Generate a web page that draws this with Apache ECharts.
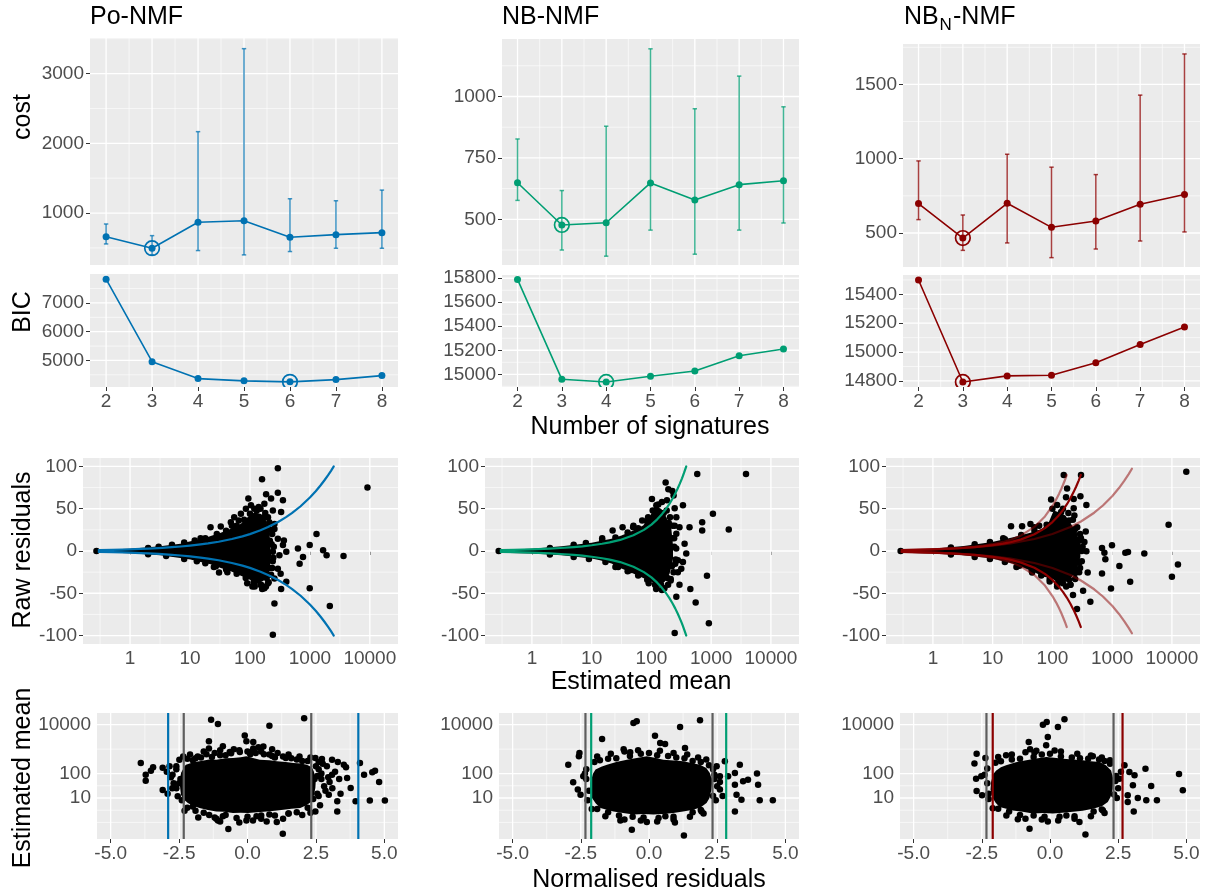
<!DOCTYPE html>
<html><head><meta charset="utf-8">
<script src="https://cdn.jsdelivr.net/npm/echarts@6/dist/echarts.min.js"></script>
<style>html,body{margin:0;padding:0;background:#fff}#c{width:1207px;height:895px}</style>
</head><body><div id="c"></div>
<script>
// ---------------- DATA ----------------
const sigK = [2, 3, 4, 5, 6, 7, 8];
const costPo = [661, 496, 867, 890, 652, 690, 719];
const costPoLo = [557, 400, 462, 400, 448, 495, 495];
const costPoHi = [843, 676, 2167, 3357, 1205, 1176, 1329];
const costNB = [649, 477, 486, 648, 579, 641, 657];
const costNBLo = [577, 375, 350, 456, 358, 456, 485];
const costNBHi = [827, 617, 879, 1194, 950, 1083, 958];
const costNBN = [698, 466, 700, 538, 581, 693, 759];
const costNBNLo = [590, 383, 433, 334, 392, 446, 507];
const costNBNHi = [985, 621, 1030, 943, 893, 1428, 1705];
const bicPo = [7828, 4955, 4369, 4290, 4255, 4334, 4472];
const bicNB = [15790, 14958, 14936, 14983, 15027, 15155, 15211];
const bicNBN = [15499, 14793, 14835, 14839, 14926, 15053, 15174];
const bestCostK = [3, 3, 3];
const bestBicK = [6, 4, 3];

// tick values
const kTicks = [2, 3, 4, 5, 6, 7, 8];
const kMinor = [2.5, 3.5, 4.5, 5.5, 6.5, 7.5];
const costPoTicks = [1000, 2000, 3000], costPoMinor = [500, 1500, 2500, 3500];
const costNBTicks = [500, 750, 1000], costNBMinor = [375, 625, 875, 1125];
const costNBNTicks = [500, 1000, 1500], costNBNMinor = [750, 1250, 1750];
const bicPoTicks = [5000, 6000, 7000], bicPoMinor = [4500, 5500, 6500, 7500];
const bicNBTicks = [15000, 15200, 15400, 15600, 15800], bicNBMinor = [14900, 15100, 15300, 15500, 15700];
const bicNBNTicks = [14800, 15000, 15200, 15400], bicNBNMinor = [14900, 15100, 15300, 15500];
const meanTicks = [1, 10, 100, 1000, 10000], meanMinor = [0.316, 3.16, 31.6, 316, 3162];
const residTicks = [-100, -50, 0, 50, 100], residMinor = [-75, -25, 25, 75];
const normTicks = [-5, -2.5, 0, 2.5, 5], normMinor = [-3.75, -1.25, 1.25, 3.75];
const estTicks = [10, 100, 10000], estMinor = [1, 3.16, 31.6, 1000];

// raw residual bands
const muPo = [0.3, 0.5, 0.75, 1, 1.5, 2, 3, 5, 7, 10, 15, 20, 30, 50, 75, 100, 150, 200, 300, 400, 500, 700, 1000, 1250, 1500, 1750, 2000, 2250, 2500];
const bandPo = [1.1, 1.41, 1.73, 2, 2.45, 2.83, 3.46, 4.47, 5.29, 6.32, 7.75, 8.94, 10.95, 14.14, 17.32, 20, 24.49, 28.28, 34.64, 40, 44.72, 52.92, 63.25, 70.71, 77.46, 83.67, 89.44, 94.87, 100];
const muNB = [0.3, 0.5, 1, 2, 3, 5, 7, 10, 15, 20, 30, 50, 75, 100, 125, 150, 175, 200, 225, 250, 275, 300, 325, 350, 383];
const bandNB = [1.1, 1.42, 2.01, 2.87, 3.54, 4.63, 5.55, 6.77, 8.54, 10.15, 13.11, 18.56, 25.0, 31.26, 37.44, 43.58, 49.68, 55.76, 61.82, 67.88, 73.93, 79.97, 86.0, 92.03, 100];
const muNBNa = [0.3, 0.5, 1, 2, 3, 5, 7, 10, 15, 20, 30, 50, 75, 100, 115, 130, 140, 150, 162, 174];
const bandNBNa = [1.1, 1.44, 2.06, 3.0, 3.77, 5.11, 6.32, 8.03, 10.72, 13.33, 18.43, 28.45, 40.89, 53.28, 60.71, 68.13, 73.08, 78.03, 83.96, 89.9];
const muNBNb = [0.3, 0.5, 1, 2, 3, 5, 7, 10, 15, 20, 30, 50, 75, 100, 125, 150, 175, 200, 225, 250, 275, 299];
const bandNBNb = [1.1, 1.42, 2.02, 2.88, 3.56, 4.68, 5.64, 6.91, 8.8, 10.53, 13.77, 19.83, 27.1, 34.24, 41.31, 48.35, 55.36, 62.36, 69.35, 76.33, 83.3, 90.0];
const muNBNc = [0.3, 0.5, 1, 2, 3, 5, 10, 20, 50, 100, 200, 300, 500, 700, 1000, 1300, 1600, 1900, 2140];
const bandNBNc = [1.1, 1.41, 2, 2.83, 3.46, 4.47, 6.33, 8.95, 14.16, 20.05, 28.43, 34.9, 45.28, 53.83, 64.81, 74.42, 83.14, 91.23, 97.34];

// dense cores of the residual clouds (outline)
const rawPoCore = [[0.275,1.6],[1,2.7],[3.19,5.5],[6.9,8.6],[10.2,11.4],[15,13.3],[22.1,17.6],[32.6,21.6],[47.9,26.3],[70.6,32.1],[91.4,40],[118,45.9],[153,43.9],[186,36],[211,22.3],[225,-5.1],[211,-24.7],[174,-34.5],[134,-38.4],[104,-34.5],[70.6,-29.4],[47.9,-23.9],[32.6,-20],[22.1,-15.7],[15,-12.9],[10.2,-10.2],[6.9,-8.2],[3.19,-5.1],[1,-2.7],[0.275,-1.6]];
const rawNBCore = [[0.278,1.6],[1,2.7],[3.16,5.5],[10,9.8],[21.5,14.5],[31.6,18.4],[49.5,24.3],[72.6,30.2],[93.8,40],[113.6,53.7],[146.8,49.8],[177.8,40],[215.4,26.3],[229.7,6.7],[229.7,-9],[202,-26.7],[166.8,-36.5],[129,-42.3],[100,-36.5],[72.6,-31.8],[49.5,-26.7],[31.6,-20.8],[21.5,-14.9],[13.8,-11],[10,-9],[3.16,-5.1],[1,-3.1],[0.278,-2]];
const rawNBNCore = [[0.288,1.6],[1,2.7],[3.3,5.9],[9.8,10.6],[21.2,16.1],[42.9,21.6],[67.2,26.3],[86.9,34.1],[105,47.8],[127.6,45.9],[164.9,41.9],[213,30.2],[258,20.4],[294,6.7],[294,-7.1],[258,-20.8],[213,-30.6],[164.9,-36.5],[127.6,-38.4],[98.7,-32.5],[71.6,-30.6],[48.8,-24.7],[31.1,-18.8],[21.2,-14.9],[9.8,-9],[3.3,-5.1],[1,-3.1],[0.288,-2]];

const rawPoPts = [[0.275,0],[292,98],[159,85],[186,67],[292,69],[355,60],[225,62],[174,56],[241,48],[94,62],[118,50],[331,46],[256,32],[355,7],[368,12.5],[256,26],[292,14.5],[241,-1],[310,-5],[404,-1],[292,-21],[325,-27],[256,-32.5],[331,-45],[404,-36.5],[256,-62],[241,-99],[153,-40],[174,-44],[118,-38],[42,-25],[30.5,-25.5],[22,28],[32.6,29],[48,34],[70.6,44],[85.6,50],[54.6,40],[104,54],[632,3],[674,-15],[767,-7],[993,7],[1290,20],[1660,1],[1900,-5],[993,-44],[2150,-65],[3640,-6],[9130,75],
  [2,3.5],[3,5],[5,7.5],[8,10],[12,12.5],[18,15],[28,20],[40,24],[60,30],[80,37],[100,44],[130,48],[170,40],[200,28],[215,12],[2,-3.8],[4,-6],[8,-9.5],[13,-12],[18,-14.5],[27,-18],[40,-22],[60,-27],[85,-32],[115,-37],[150,-40],[190,-32],[215,-20],
  [230,8],[240,-12],[235,20],[200,-38],[140,52],[65,36],[110,-42],
  [150,50],[180,45],[200,40],[210,34],[220,25],[160,-45],[185,-42],[205,-37],[225,-28],[235,-20],[245,-8],[250,5],[120,-42],[90,-38],[50,30],[25,-19],[15,15]];
const rawNBPts = [[0.278,0],[173,81],[192,73],[224,71],[182,60],[235,65.5],[245,50.6],[337,54],[102,61.5],[121,54],[88,40],[261,40],[295,28],[434,28],[261,20.4],[359,8.6],[383,-3],[277,-11],[337,-13],[316,-21],[277,-25],[295,-40],[448,-45],[261,-54],[550,-61],[245,-97],[22.4,24.3],[32.9,28.2],[49.5,28.2],[43.5,-22.7],[27.8,-18.8],[585,91],[707,34],[707,24.3],[1070,44],[1970,25.5],[850,-29.4],[915,-85.5],[3830,91],
  [2,3.5],[5,7.5],[8,9.5],[15,12.5],[25,16],[40,22],[60,27],[85,35],[105,48],[130,55],[160,45],[195,33],[220,15],[2,-4],[5,-7],[9,-9.5],[17,-13],[26,-17],[40,-24],[60,-29],[85,-34],[115,-40],[145,-40],[185,-32],[220,-18],
  [240,5],[250,-15],[245,30],[210,-35],[150,-46],[70,36],
  [150,58],[180,48],[205,40],[225,30],[240,15],[165,-44],[190,-40],[210,-33],[235,-25],[255,-10],[260,3],[120,-45],[90,-38],[50,30],[25,-19],[15,15]];
const rawNBNPts = [[0.288,0],[154.6,90],[301,90],[176,74],[169,63.5],[227,61.5],[294,64.7],[370,54.5],[227,50.6],[95,60.8],[120,54.5],[233,42],[20.3,29.4],[31.1,29.4],[42.9,32],[227,21.6],[361,23],[343,10.6],[370,-0.4],[258,-12.2],[258,-22.7],[389,-25.5],[221,-52],[326,-47],[431,-60],[258,-68.6],[45.7,-25.5],[676,3.5],[741,-2],[769,-9.8],[676,-26.7],[993,6.7],[956,-44.3],[1320,-17.6],[1660,-2],[1840,-1.2],[2000,-36.5],[3450,-3.1],[8790,31],[10000,-30.6],[12600,-16.1],[17400,93.7],
  [2,4],[5,8],[9,10.5],[16,14],[30,19],[50,24],[80,31],[100,50],[140,46],[190,36],[240,26],[280,12],[2,-4],[5,-7],[9,-9.5],[16,-13],[28,-17.5],[45,-23],[65,-29],[90,-33],[120,-39],[150,-38],[190,-34],[240,-26],[280,-14],
  [310,0],[300,15],[290,-20],[200,-40],[60,30],
  [150,50],[185,45],[220,37],[260,28],[290,20],[320,5],[170,-42],[200,-40],[240,-33],[280,-25],[310,-12],[120,-42],[90,-36],[50,28],[25,-19],[15,15]];

// normalised residual vs estimated mean
const normPoCore = [[-2.43,105],[-2.3,200],[-2.25,231],[-1.95,300],[-1.75,316],[-1.4,380],[-1.14,371],[-0.8,420],[-0.53,436],[-0.25,470],[-0.04,510],[0.2,430],[0.45,371],[0.8,350],[1.07,316],[1.4,300],[1.68,270],[1.95,260],[2.17,231],[2.35,180],[2.42,123],[2.5,60],[2.48,25.7],[2.42,12],[2.36,7.3],[2.15,5],[1.93,3.9],[1.6,3.6],[1.31,3.3],[1.0,3.0],[0.7,2.8],[0.35,2.6],[0.02,2.4],[-0.25,2.5],[-0.53,2.4],[-0.85,2.7],[-1.14,2.8],[-1.45,3.2],[-1.75,3.9],[-2.0,4.8],[-2.18,6.2],[-2.35,9],[-2.43,13.7],[-2.48,40]];
const normNBCore = [[-2.15,41],[-2.05,100],[-1.96,145],[-1.75,190],[-1.54,230],[-1.2,300],[-0.81,370],[-0.45,430],[-0.08,510],[0.25,430],[0.53,370],[0.9,340],[1.26,316],[1.55,270],[1.87,230],[2.1,170],[2.23,105],[2.32,50],[2.29,22],[2.22,10],[2.11,6.2],[1.9,4.2],[1.62,3.3],[1.25,2.8],[0.89,2.4],[0.5,2.2],[0.16,2.1],[-0.2,2.2],[-0.57,2.1],[-0.95,2.4],[-1.3,2.8],[-1.55,3.3],[-1.78,3.9],[-1.95,6],[-2.09,10],[-2.15,20]];
const normNBNCore = [[-2.16,45],[-2.08,95],[-1.97,135],[-1.8,180],[-1.61,218],[-1.25,290],[-0.87,350],[-0.5,410],[-0.14,475],[0.15,440],[0.47,408],[0.85,380],[1.2,350],[1.5,320],[1.82,295],[2.05,220],[2.24,135],[2.32,60],[2.3,24],[2.22,11],[2.12,6.9],[1.9,4.6],[1.57,3.6],[1.2,3.0],[0.84,2.7],[0.45,2.5],[0.1,2.3],[-0.25,2.4],[-0.63,2.3],[-1.0,2.7],[-1.36,3.1],[-1.6,3.6],[-1.85,4.3],[-2.0,6.5],[-2.12,11],[-2.18,22]];
const normPoPts = [[-3.9,270],[-3.72,90],[-3.72,51],[-3.53,131],[-3.45,180],[-3.1,171],[-3.1,21.3],[-2.92,15],[-2.55,11.7],[-2.49,371],[-2.74,90],[-1.82,505],[-1.33,15800],[-1.08,10700],[-1.41,2090],[-1.41,1050],[-0.65,760],[-0.28,760],[-0.1,3630],[-0.04,2090],[0.21,1950],[0.21,1050],[0.58,1290],[0.8,9120],[2.07,18600],[-1.14,1.4],[-1.08,1.2],[-0.7,0.54],[-0.04,1.2],[0.33,1.8],[1.07,1.05],[1.29,0.34],[2.48,2.8],[2.48,436],[2.72,398],[3.09,371],[3.28,7.3],[3.28,2.8],[2.97,13.7],[3.09,90],[3.52,231],[3.64,66],[3.77,25.7],[3.95,7.3],[4.11,270],[4.26,90],[4.47,7.8],[4.56,112],[4.81,45],[5.02,7.8],[4.66,131],
  [2.6,150],[2.7,60],[2.8,30],[2.6,12],[2.9,200],[3.0,45],[3.2,120],[3.35,60],[2.65,5],[3.1,25],[3.4,15],[2.55,80],[2.75,250],[3.6,180],[3.3,300],[-2.6,150],[-2.7,40],[-2.8,70],[-2.6,25],[-2.45,60],[-2.95,120],[-1.6,2.5],[-0.9,1.8],[0.5,1.9],[1.5,2.3],[-2.0,4.5],[-1.9,420],[-1.3,480],[-0.8,560],[0.1,620],[0.9,520],[1.4,430],[2.0,330],
  [-2.2,400],[-1.7,450],[-1.5,620],[-1.0,560],[-0.6,680],[-0.3,900],[0.0,800],[0.3,700],[0.6,620],[1.0,450],[1.3,500],[1.8,380],[2.2,330],[-2.0,350],[1.6,420],[0.8,600],[-0.9,1300],[0.4,1200],
  [-2.2,4],[-1.9,3],[-1.4,2],[-1.2,1.6],[-0.4,1.5],[0.0,1.7],[0.5,1.4],[1.0,1.9],[1.5,2.3],[1.8,2.6],[2.2,4],[-0.8,2.0],[0.8,2.1],
  [2.45,60],[2.5,200],[2.55,15],[2.4,9],[2.7,100],[2.85,20],[2.6,300],[2.95,70],[-2.5,40],[-2.6,200],[-2.4,8],[-2.75,25],[-2.85,200],
  [-2.1,600],[-1.6,800],[-1.2,700],[-0.5,1000],[0.2,900],[0.5,800],[1.1,700],[1.5,600],[1.9,500],[2.3,450],[-2.35,500],[-1.0,900],[0.9,1000],[-1.8,1.6],[-1.0,1.1],[-0.3,1.0],[0.2,1.2],[0.7,1.1],[1.3,1.4],[2.0,2.0],[2.3,2.5],[-2.3,3]];
const normNBPts = [[-2.96,230],[-2.78,44],[-2.57,510],[-2.55,690],[-2.41,77],[-2.61,22],[-2.51,13.7],[-1.72,2590],[-0.57,11800],[-0.45,13800],[0.22,3550],[0.41,1780],[0.59,1620],[1.14,8100],[1.32,1120],[-0.93,1000],[-0.69,740],[1.87,15200],[-1.05,1.2],[-0.63,0.5],[-0.08,1.05],[0.35,1.5],[0.95,1.0],[1.28,0.29],[1.93,2.8],[2.48,200],[2.6,77],[2.78,316],[2.9,77],[3.15,105],[3.15,35],[3.33,230],[3.45,48],[3.15,2.8],[3.21,13.7],[3.39,8.5],[3.63,56],[3.96,100],[4.0,35],[4.06,8],[4.54,8],[2.6,22],
  [2.4,60],[2.5,30],[2.7,12],[2.45,8],[2.35,150],[-2.3,60],[-2.2,20],[-2.35,100],[2.6,45],[-1.5,2.6],[-0.6,1.7],[0.6,1.8],[1.6,2.6],[-1.5,400],[-0.7,520],[0.3,560],[1.0,450],[1.6,330],
  [-2.0,300],[-1.8,350],[-1.2,420],[-0.3,650],[0.0,700],[0.7,520],[1.3,420],[1.9,300],[2.2,220],[-1.1,1.9],[-0.2,1.6],[0.9,1.7],[1.9,3.2],[-1.9,3.5],[2.35,12],[2.4,90],[-2.25,8],[-2.3,150],
  [-1.9,500],[-1.4,650],[-0.9,800],[-0.4,900],[0.4,850],[0.9,700],[1.4,600],[1.8,450],[2.1,380],[-1.6,1.8],[-0.9,1.3],[-0.3,1.2],[0.3,1.1],[0.9,1.3],[1.5,1.7],[2.0,2.3],[-2.1,3.5]];
const normNBNPts = [[-2.77,257],[-2.69,650],[-2.37,433],[-2.71,62],[-2.69,19.3],[-2.49,12.8],[-2.52,77],[-1.61,560],[-0.78,1950],[-0.73,980],[-0.57,720],[-0.26,10000],[-0.12,12900],[-0.08,3160],[-0.14,1440],[0.17,890],[0.29,8000],[0.53,16600],[1.57,510],[-1.18,1.35],[-0.75,0.55],[-0.08,1.1],[0.35,1.7],[1.08,1.05],[1.3,0.32],[1.94,3.1],[2.73,218],[2.91,115],[3.1,85],[3.04,33],[2.85,12.8],[2.85,6.9],[3.07,2.8],[3.22,10],[3.5,158],[3.71,31],[3.53,8],[3.92,8],[4.73,96],[4.87,20.6],[2.55,62],
  [2.4,50],[2.5,25],[2.45,10],[2.6,120],[-2.3,40],[-2.25,15],[-2.4,90],[-1.5,2.8],[-0.6,1.9],[0.6,1.9],[1.6,2.8],[-1.4,380],[-0.6,480],[0.4,500],[1.1,420],[1.8,380],
  [-2.0,280],[-1.8,320],[-1.1,400],[-0.3,600],[0.0,640],[0.8,450],[1.4,400],[2.0,330],[2.2,250],[-1.1,2.0],[-0.2,1.7],[0.9,1.8],[1.9,3.4],[-1.9,3.6],[2.35,14],[2.42,80],[-2.25,9],[-2.3,160],
  [-1.9,480],[-1.4,600],[-0.9,750],[-0.5,850],[0.4,800],[1.0,650],[1.5,550],[1.9,450],[2.2,350],[-1.6,1.9],[-0.9,1.4],[-0.3,1.3],[0.3,1.2],[0.9,1.4],[1.5,1.8],[2.0,2.4],[-2.1,3.8]];
const normGrey = [-2.33, 2.33];
const normPoCut = [-2.9, 4.05];
const normNBCut = [-2.12, 2.83];
const normNBNCut = [-2.1, 2.66];

// ---------------- STYLE / LAYOUT ----------------
const FONT = '"Liberation Sans", Arial, Helvetica, sans-serif';
const COLS = ['#0072B2', '#009E73', '#8B0000'];
const boxes = {
  cost: [[90, 38, 308, 227], [502, 39, 297, 226], [903, 44, 297, 223]],
  bic: [[90, 274, 308, 113], [502, 275, 297, 112], [903, 275, 297, 112]],
  raw: [[83, 458, 315, 186], [485, 458, 314, 186], [886, 458, 314, 186]],
  norm: [[97, 713, 301, 126], [499, 713, 300, 126], [900, 713, 300, 126]]
};

const grids = [], xAxes = [], yAxes = [], series = [];
function mkAxis(gi, a, isX) {
  const show = !a.hideLabels;
  return {
    gridIndex: gi, type: a.type || 'value', min: a.min, max: a.max, logBase: 10,
    position: isX ? 'bottom' : 'left',
    axisLine: {show: false},
    axisTick: {show: show, customValues: a.major, length: 4, lineStyle: {color: '#333333', width: 1}},
    axisLabel: {show: show, customValues: a.major, formatter: a.fmt || (v => String(v)),
      color: '#4D4D4D', fontSize: 19, fontFamily: FONT, margin: isX ? 5 : 6},
    splitLine: {show: false}, splitArea: {show: false}, minorTick: {show: false}, minorSplitLine: {show: false}
  };
}
function gridLines(gi, xa, ya) {
  const items = [];
  xa.minor.forEach(v => items.push([v, ya.ref, 0, 0]));
  ya.minor.forEach(v => items.push([xa.ref, v, 1, 0]));
  xa.major.forEach(v => items.push([v, ya.ref, 0, 1]));
  ya.major.forEach(v => items.push([xa.ref, v, 1, 1]));
  return {type: 'custom', xAxisIndex: gi, yAxisIndex: gi, silent: true, z: 1, clip: true,
    data: items, encode: {x: 0, y: 1},
    renderItem: (params, api) => {
      const p = api.coord([api.value(0), api.value(1)]);
      const cs = params.coordSys;
      const horiz = api.value(2) === 1, major = api.value(3) === 1;
      const shape = horiz ? {x1: cs.x, y1: p[1], x2: cs.x + cs.width, y2: p[1]}
                          : {x1: p[0], y1: cs.y, x2: p[0], y2: cs.y + cs.height};
      return {type: 'line', shape, style: {stroke: '#FFFFFF', lineWidth: major ? 1.3 : 0.6}};
    }};
}
function addPanel(box, xa, ya) {
  const gi = grids.length;
  grids.push({left: box[0], top: box[1], width: box[2], height: box[3], show: true,
    backgroundColor: '#EBEBEB', borderWidth: 0, containLabel: false});
  xAxes.push(mkAxis(gi, xa, true));
  yAxes.push(mkAxis(gi, ya, false));
  series.push(gridLines(gi, xa, ya));
  return gi;
}
function ringSeries(gi, pt, col) {
  return {type: 'custom', xAxisIndex: gi, yAxisIndex: gi, silent: true, z: 5, clip: true,
    data: [pt], encode: {x: 0, y: 1},
    renderItem: (params, api) => {
      const p = api.coord([api.value(0), api.value(1)]);
      return {type: 'circle', shape: {cx: p[0], cy: p[1], r: 7.3}, style: {fill: null, stroke: col, lineWidth: 1.7}};
    }};
}
const kAxisTop = {min: 1.65, max: 8.35, major: kTicks, minor: kMinor, ref: 5, hideLabels: true};
const kAxis = {min: 1.65, max: 8.35, major: kTicks, minor: kMinor, ref: 5};

// Row 1: cost with error bars
const costSets = [
  {mid: costPo, lo: costPoLo, hi: costPoHi, min: 255, max: 3510, major: costPoTicks, minor: costPoMinor},
  {mid: costNB, lo: costNBLo, hi: costNBHi, min: 314, max: 1234, major: costNBTicks, minor: costNBMinor},
  {mid: costNBN, lo: costNBNLo, hi: costNBNHi, min: 271, max: 1772, major: costNBNTicks, minor: costNBNMinor}
];
costSets.forEach((s, c) => {
  const col = COLS[c];
  const gi = addPanel(boxes.cost[c], kAxisTop, {min: s.min, max: s.max, major: s.major, minor: s.minor, ref: s.mid[0]});
  series.push({type: 'custom', xAxisIndex: gi, yAxisIndex: gi, z: 3, silent: true,
    data: sigK.map((k, i) => [k, s.lo[i], s.hi[i]]), encode: {x: 0, y: [1, 2]},
    renderItem: (params, api) => {
      const a = api.coord([api.value(0), api.value(1)]);
      const b = api.coord([api.value(0), api.value(2)]);
      const st = {stroke: col, lineWidth: 1.5, opacity: 0.75};
      return {type: 'group', children: [
        {type: 'line', shape: {x1: a[0], y1: a[1], x2: b[0], y2: b[1]}, style: st},
        {type: 'line', shape: {x1: a[0] - 2.2, y1: a[1], x2: a[0] + 2.2, y2: a[1]}, style: st},
        {type: 'line', shape: {x1: b[0] - 2.2, y1: b[1], x2: b[0] + 2.2, y2: b[1]}, style: st}
      ]};
    }});
  series.push({type: 'line', xAxisIndex: gi, yAxisIndex: gi, z: 4, silent: true,
    data: sigK.map((k, i) => [k, s.mid[i]]), symbol: 'circle', symbolSize: 7, showSymbol: true,
    lineStyle: {color: col, width: 1.6}, itemStyle: {color: col, opacity: 1}});
  const bk = bestCostK[c];
  series.push(ringSeries(gi, [bk, s.mid[sigK.indexOf(bk)]], col));
});

// Row 2: BIC
const bicSets = [
  {vals: bicPo, min: 4076, max: 8007, major: bicPoTicks, minor: bicPoMinor},
  {vals: bicNB, min: 14894, max: 15827, major: bicNBTicks, minor: bicNBMinor},
  {vals: bicNBN, min: 14758, max: 15534, major: bicNBNTicks, minor: bicNBNMinor}
];
bicSets.forEach((s, c) => {
  const col = COLS[c];
  const gi = addPanel(boxes.bic[c], kAxis, {min: s.min, max: s.max, major: s.major, minor: s.minor, ref: s.vals[3]});
  series.push({type: 'line', xAxisIndex: gi, yAxisIndex: gi, z: 4, silent: true,
    data: sigK.map((k, i) => [k, s.vals[i]]), symbol: 'circle', symbolSize: 7,
    lineStyle: {color: col, width: 1.6}, itemStyle: {color: col, opacity: 1}});
  const bk = bestBicK[c];
  series.push(ringSeries(gi, [bk, s.vals[sigK.indexOf(bk)]], col));
});

// Row 3: raw residuals
function polySeries(gi, pts) {
  return {type: 'custom', xAxisIndex: gi, yAxisIndex: gi, silent: true, z: 2, clip: true,
    data: [pts[0]], encode: {x: 0, y: 1},
    renderItem: (params, api) => ({type: 'polygon', shape: {points: pts.map(p => api.coord(p))}, style: {fill: '#000000'}})};
}
function ptsSeries(gi, pts) {
  return {type: 'scatter', xAxisIndex: gi, yAxisIndex: gi, silent: true, z: 3, data: pts,
    symbol: 'circle', symbolSize: 6.5, itemStyle: {color: '#000000', opacity: 1}};
}
function bandSeries(gi, mu, band, col, op, sign) {
  return {type: 'line', xAxisIndex: gi, yAxisIndex: gi, silent: true, z: 6, showSymbol: false,
    smooth: false, data: mu.map((m, i) => [m, sign * band[i]]),
    lineStyle: {color: col, width: 2.2, opacity: op, cap: 'round', join: 'round'}};
}
const meanAxis = {type: 'log', min: 0.164, max: 29500, major: meanTicks, minor: meanMinor, ref: 10,
  fmt: v => String(Math.round(v))};
const residAxis = {min: -110, max: 110, major: residTicks, minor: residMinor, ref: 0};
const rawSets = [
  {core: rawPoCore, pts: rawPoPts, bands: [[muPo, bandPo, 1]]},
  {core: rawNBCore, pts: rawNBPts, bands: [[muNB, bandNB, 1]]},
  {core: rawNBNCore, pts: rawNBNPts, bands: [[muNBNa, bandNBNa, 0.5], [muNBNc, bandNBNc, 0.5], [muNBNb, bandNBNb, 1]]}
];
rawSets.forEach((s, c) => {
  const gi = addPanel(boxes.raw[c], meanAxis, residAxis);
  series.push(polySeries(gi, s.core));
  series.push(ptsSeries(gi, s.pts));
  s.bands.forEach(b => {
    series.push(bandSeries(gi, b[0], b[1], COLS[c], b[2], 1));
    series.push(bandSeries(gi, b[0], b[1], COLS[c], b[2], -1));
  });
});

// Row 4: normalised residuals
const normAxis = {min: -5.5, max: 5.5, major: normTicks, minor: normMinor, ref: 0, fmt: v => v.toFixed(1)};
const estAxis = {type: 'log', min: 0.209, max: 30200, major: estTicks, minor: estMinor, ref: 10,
  fmt: v => String(Math.round(v))};
function vlineSeries(gi, vals, cols) {
  return {type: 'custom', xAxisIndex: gi, yAxisIndex: gi, silent: true, z: 7, clip: true,
    data: vals.map(v => [v, 10]), encode: {x: 0, y: 1},
    renderItem: (params, api) => {
      const p = api.coord([api.value(0), api.value(1)]);
      const cs = params.coordSys;
      return {type: 'line', shape: {x1: p[0], y1: cs.y, x2: p[0], y2: cs.y + cs.height},
        style: {stroke: cols[params.dataIndex], lineWidth: 2.2}};
    }};
}
const normSets = [
  {core: normPoCore, pts: normPoPts, cut: normPoCut},
  {core: normNBCore, pts: normNBPts, cut: normNBCut},
  {core: normNBNCore, pts: normNBNPts, cut: normNBNCut}
];
normSets.forEach((s, c) => {
  const gi = addPanel(boxes.norm[c], normAxis, estAxis);
  series.push(polySeries(gi, s.core));
  series.push(ptsSeries(gi, s.pts));
  series.push(vlineSeries(gi, normGrey, ['#5E5E5E', '#5E5E5E']));
  series.push(vlineSeries(gi, s.cut, [COLS[c], COLS[c]]));
});

// ---------------- TEXT ----------------
const T = (text, x, y, opt) => ({type: 'text', x, y, silent: true,
  style: Object.assign({text, fill: '#000', font: '25px ' + FONT, textAlign: 'left', textVerticalAlign: 'middle'}, opt || {})});
const R = (text, x, y) => ({type: 'text', x, y, rotation: Math.PI / 2, silent: true,
  style: {text, fill: '#000', font: '25px ' + FONT, textAlign: 'center', textVerticalAlign: 'middle'}});
const graphic = [
  T('Po-NMF', 90, 17), T('NB-NMF', 502, 17),
  T('NB', 904, 17), T('N', 939.5, 25, {font: '17px ' + FONT}), T('-NMF', 953, 17),
  R('cost', 23, 117), R('BIC', 23, 312), R('Raw residuals', 23, 550), R('Estimated mean', 23, 778),
  T('Number of signatures', 650, 427, {textAlign: 'center'}),
  T('Estimated mean', 641, 682, {textAlign: 'center'}),
  T('Normalised residuals', 649, 880, {textAlign: 'center'})
];

const chart = echarts.init(document.getElementById('c'), null, {renderer: 'canvas'});
chart.setOption({animation: false, backgroundColor: '#FFFFFF', textStyle: {fontFamily: FONT},
  grid: grids, xAxis: xAxes, yAxis: yAxes, series, graphic});
</script></body></html>
